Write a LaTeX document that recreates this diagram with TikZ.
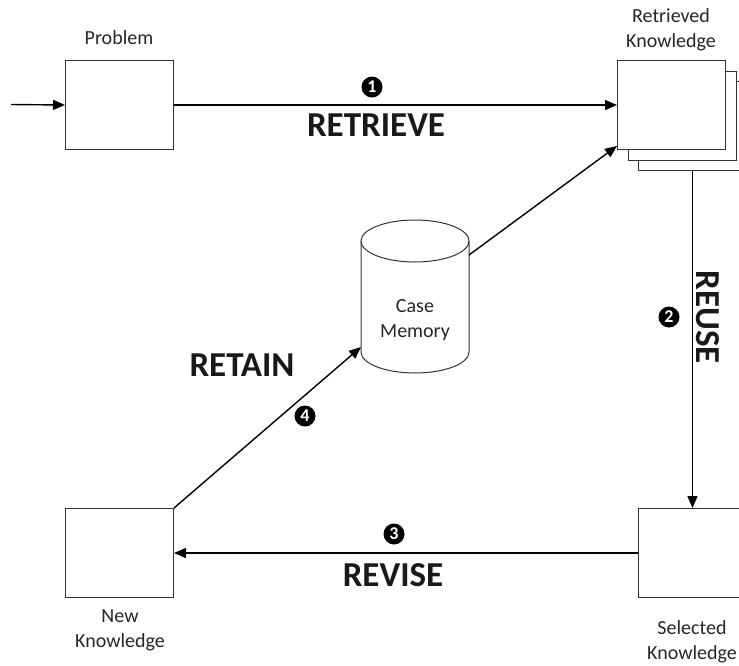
\documentclass[tikz,border=0pt]{standalone}
\usepackage{fontspec}
\setmainfont{Carlito}
\usetikzlibrary{arrows.meta}
\begin{document}
\begin{tikzpicture}[x=1pt,y=-1pt,
  box/.style={draw=black!80, line width=1pt, fill=white, minimum width=108pt,
    minimum height=89pt, inner sep=0pt, anchor=north west},
  flow/.style={line width=1.4pt, -{Triangle[length=12pt,width=10pt]}},
  lbl/.style={font=\fontsize{20}{25}\selectfont, align=center, text=black!85},
  phase/.style={font=\bfseries\fontsize{35}{38}\selectfont, text=black!90},
  num/.style={circle, fill=black, text=white, font=\bfseries\fontsize{18}{18}\selectfont,
    inner sep=0pt, minimum size=21pt}
]
\useasboundingbox (0,0) rectangle (739,665);
\clip (0,0) rectangle (739,665);

% boxes
\node[box] (prob) at (65,60) {};
\node[box] (sh2) at (638,81) {};
\node[box] (sh1) at (627.5,70.5) {};
\node[box] (ret) at (617,60) {};
\node[box] (sel) at (638,508) {};
\node[box] (new) at (65,508) {};

% box captions
\node[lbl] (lprob) at (119,38) {Problem};
\node[lbl] (lret) at (671,30) {Retrieved\\Knowledge};
\node[lbl] (lsel) at (692,642) {Selected\\Knowledge};
\node[lbl] (lnew) at (120,630) {New\\Knowledge};

% case memory cylinder
\filldraw[draw=black!80, fill=white, line width=1pt]
  (361,241) -- (361,352) arc[start angle=180, end angle=0, x radius=54, y radius=21]
  -- (469,241);
\draw[black!80, line width=1pt] (415,241) ellipse [x radius=54, y radius=21];
\node[lbl] (mem) at (415,320) {Case\\Memory};
\coordinate (memout) at (469,255);
\coordinate (memin) at (361,347);
\coordinate (retin) at (617,146);
\coordinate (src) at (11,104.5);

% connectors
\draw[flow] (src) -- (prob.west);
\draw[flow] (prob.east) -- (ret.west);
\draw[flow] (memout) -- (retin);
\draw[flow] (sh2.south) -- (sel.north);
\draw[flow] (sel.west) -- (new.east);
\draw[flow] (new.north east) -- (memin);

% phase labels
\node[num] (n1) at (372,87) {1};
\node[phase] (p1) at (376,125) {RETRIEVE};
\node[num] (n2) at (669,317) {2};
\node[phase, rotate=-90] (p2) at (708,317) {REUSE};
\node[num] (n3) at (394,534) {3};
\node[phase] (p3) at (393,575) {REVISE};
\node[num] (n4) at (305,416) {4};
\node[phase] (p4) at (242,365) {RETAIN};
\end{tikzpicture}
\end{document}
